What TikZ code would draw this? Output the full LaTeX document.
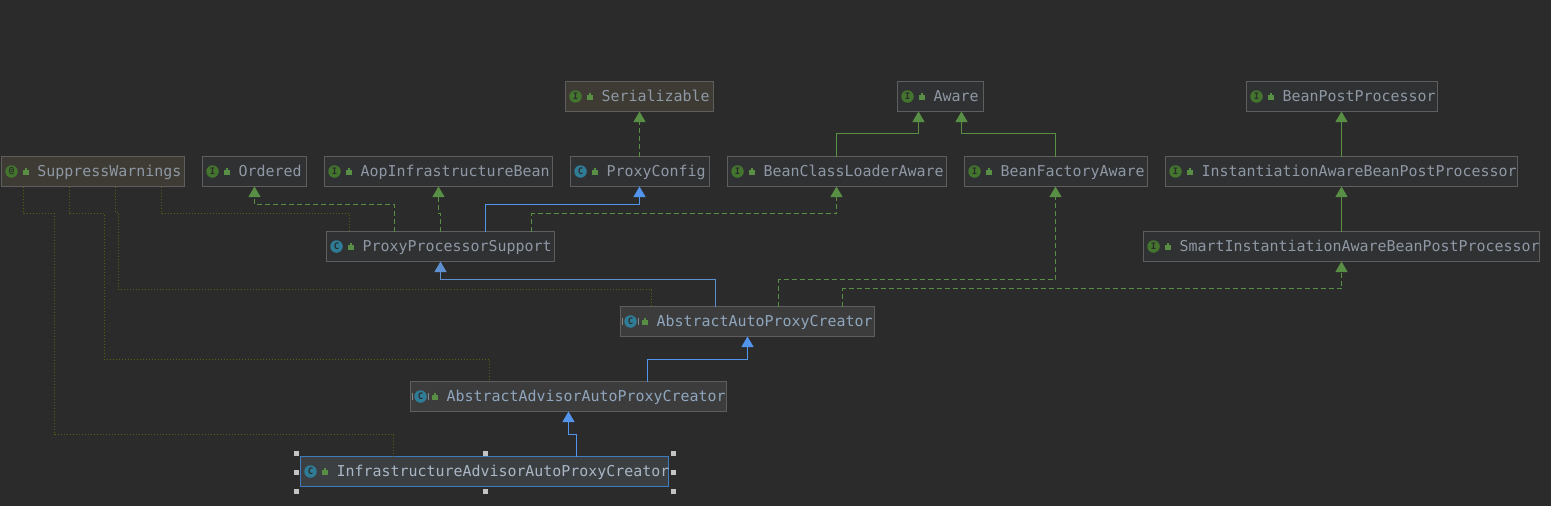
\documentclass[tikz,border=0pt]{standalone}
\usepackage{fontspec}
\setmonofont{DejaVu Sans Mono}
\usetikzlibrary{arrows.meta}
\definecolor{bgc}{HTML}{2B2B2B}
\definecolor{boxfill}{HTML}{303132}
\definecolor{tanfill}{HTML}{3D3B33}
\definecolor{absfill}{HTML}{3C3C3C}
\definecolor{selfill}{HTML}{3C3F41}
\definecolor{boxline}{HTML}{5E5E5E}
\definecolor{selline}{HTML}{3F7CBF}
\definecolor{txtgrey}{HTML}{8F98A5}
\definecolor{txtblue}{HTML}{8FA6BE}
\definecolor{txtsel}{HTML}{A9B7C6}
\definecolor{grn}{HTML}{588F45}
\definecolor{grnicon}{HTML}{44752F}
\definecolor{blu}{HTML}{5394EC}
\definecolor{tealicon}{HTML}{2F7C97}
\definecolor{dotc}{HTML}{5C5C12}
\definecolor{handle}{HTML}{C4C4C4}
\definecolor{barc}{HTML}{7F8A8F}
\tikzset{
  x=1pt,y=-1pt,
  umlbox/.style={draw=boxline,line width=1pt,fill=boxfill,anchor=north west,inner sep=0pt,outer sep=0pt,minimum height=30pt,text=txtgrey,font=\ttfamily\fontsize{14.95}{15}\selectfont},
  tanbox/.style={umlbox,fill=tanfill},
  absbox/.style={umlbox,fill=absfill,text=txtblue},
  selbox/.style={umlbox,fill=selfill,draw=selline,text=txtsel},
  iconmark/.style={circle,inner sep=0pt,outer sep=0pt,minimum size=12.5pt,text=bgc,font=\ttfamily\bfseries\fontsize{9}{9}\selectfont},
  ifaceicon/.style={iconmark,fill=grnicon},
  classicon/.style={iconmark,fill=tealicon},
  lockmark/.style={fill=grn,inner sep=0pt,outer sep=0pt,minimum width=6pt,minimum height=5pt},
  tip/.style={-{Triangle[length=10.5pt,width=12pt]}},
  impl/.style={tip,draw=grn,line width=1pt,dash pattern=on 5pt off 3pt},
  ext/.style={tip,draw=grn,line width=1pt},
  extb/.style={tip,draw=blu,line width=1pt},
  extc/.style={tip,draw=blu!75!gray,line width=1pt},
  dep/.style={draw=dotc,line width=1pt,dash pattern=on 1pt off 2pt},
  grip/.style={fill=handle,minimum size=5pt,inner sep=0pt,outer sep=0pt},
  absbar/.style={draw=barc,line width=1pt},
}
% name, x, y, width, box style, icon style, letter, text
\newcommand{\umlnode}[8]{%
  \node[#5,minimum width=#4pt] (#1) at (#2,#3) {\makebox[#4pt][l]{\hspace{36pt}\raisebox{0pt}[12pt][3pt]{#8}}};
  \node[#6] (#1icon) at ([xshift=10pt]#1.west) {#7};
  \node[lockmark] (#1lock) at ([xshift=24pt,yshift=-0.8pt]#1.west) {};
  \fill[grn] ([xshift=-1pt]#1lock.north) rectangle ++(2,-1.5);
}
\begin{document}
\begin{tikzpicture}
\fill[bgc] (0,0) rectangle (1551,506);
\useasboundingbox (0,0) rectangle (1551,506);

\umlnode{ser}{565.5}{81.5}{148}{tanbox}{ifaceicon}{I}{Serializable}
\umlnode{aw}{897.5}{81.5}{86}{umlbox}{ifaceicon}{I}{Aware}
\umlnode{bpp}{1246.5}{81.5}{191}{umlbox}{ifaceicon}{I}{BeanPostProcessor}
\umlnode{ss}{1.5}{156.5}{183}{tanbox}{ifaceicon}{@}{SuppressWarnings}
\umlnode{ord}{202.5}{156.5}{104}{umlbox}{ifaceicon}{I}{Ordered}
\umlnode{aop}{324.5}{156.5}{228}{umlbox}{ifaceicon}{I}{AopInfrastructureBean}
\umlnode{pc}{570.5}{156.5}{139}{umlbox}{classicon}{C}{ProxyConfig}
\umlnode{bcl}{727.5}{156.5}{219}{umlbox}{ifaceicon}{I}{BeanClassLoaderAware}
\umlnode{bfa}{964.5}{156.5}{183}{umlbox}{ifaceicon}{I}{BeanFactoryAware}
\umlnode{ipp}{1165.5}{156.5}{352}{umlbox}{ifaceicon}{I}{InstantiationAwareBeanPostProcessor}
\umlnode{pps}{326.5}{231.5}{228}{umlbox}{classicon}{C}{ProxyProcessorSupport}
\umlnode{smart}{1143.5}{231.5}{396}{umlbox}{ifaceicon}{I}{SmartInstantiationAwareBeanPostProcessor}
\umlnode{aapc}{620.5}{306.5}{254}{absbox}{classicon}{C}{AbstractAutoProxyCreator}
\umlnode{aadv}{410.5}{381.5}{316}{absbox}{classicon}{C}{AbstractAdvisorAutoProxyCreator}
\umlnode{inf}{300.5}{456.5}{368}{selbox}{classicon}{C}{InfrastructureAdvisorAutoProxyCreator}

% side bars of the abstract-class icons
\foreach \ic in {aapcicon,aadvicon}{
  \draw[absbar] ([xshift=-2pt,yshift=3.5pt]\ic.west) -- ([xshift=-2pt,yshift=-3.5pt]\ic.west);
  \draw[absbar] ([xshift=2pt,yshift=3.5pt]\ic.east) -- ([xshift=2pt,yshift=-3.5pt]\ic.east);
}

% dotted annotation links
\draw[dep] ([xshift=22pt]ss.south west) -- ++(0,27) -- ++(31,0) -- ++(0,221) -| ([xshift=93pt]inf.north west);
\draw[dep] ([xshift=68pt]ss.south west) -- ++(0,27) -- ++(35,0) -- ++(0,146) -| ([xshift=79pt]aadv.north west);
\draw[dep] ([xshift=114pt]ss.south west) -- ++(0,26) -- ++(3,0) -- ++(0,77) -| ([xshift=31pt]aapc.north west);
\draw[dep] ([xshift=160pt]ss.south west) -- ++(0,27) -| ([xshift=23pt]pps.north west);

% ProxyProcessorSupport
\draw[impl] ([xshift=68pt]pps.north west) -- ++(0,-27) -| ([xshift=52pt]ord.south west);
\draw[impl] ([xshift=114pt]pps.north west) -- ++(0,-18) -| ([xshift=114pt]aop.south west);
\draw[extb] ([xshift=159pt]pps.north west) -- ++(0,-27) -| ([xshift=69pt]pc.south west);
\draw[impl] ([xshift=205pt]pps.north west) -- ++(0,-18) -| ([xshift=109pt]bcl.south west);

% upper tier
\draw[impl] ([xshift=69pt]pc.north west) -- ([xshift=74pt]ser.south west);
\draw[ext] ([xshift=109pt]bcl.north west) -- ++(0,-23) -| ([xshift=21pt]aw.south west);
\draw[ext] ([xshift=91pt]bfa.north west) -- ++(0,-23) -| ([xshift=64pt]aw.south west);
\draw[ext] ([xshift=176pt]ipp.north west) -- ([xshift=95pt]bpp.south west);
\draw[ext] ([xshift=198pt]smart.north west) -- ([xshift=176pt]ipp.south west);

% AbstractAutoProxyCreator
\draw[extc] ([xshift=95pt]aapc.north west) -- ++(0,-27) -| ([xshift=114pt]pps.south west);
\draw[impl] ([xshift=158pt]aapc.north west) -- ++(0,-27) -| ([xshift=91pt]bfa.south west);
\draw[impl] ([xshift=222pt]aapc.north west) -- ++(0,-18) -| ([xshift=198pt]smart.south west);

% lower tier
\draw[extb] ([xshift=237pt]aadv.north west) -- ++(0,-22) -| ([xshift=127pt]aapc.south west);
\draw[extb] ([xshift=276pt]inf.north west) -- ++(0,-22) -| ([xshift=158pt]aadv.south west);

% selection handles
\foreach \hx/\hy [count=\hi] in {296.5/453.5,485/453.5,673/453.5,296.5/472,673/472,296.5/491,485/491,673/491}
  \node[grip] (grip\hi) at (\hx,\hy) {};
\end{tikzpicture}
\end{document}
